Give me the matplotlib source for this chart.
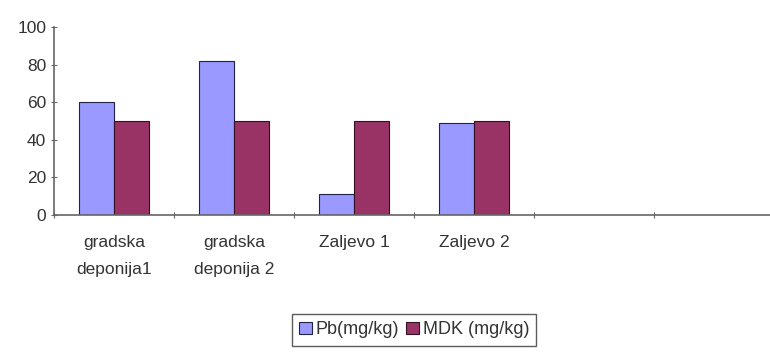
import numpy as np
import matplotlib.pyplot as plt

# Lead content vs. maximum allowed concentration per sampling site
sites = ["gradska\ndeponija1", "gradska\ndeponija 2", "Zaljevo 1", "Zaljevo 2", "", ""]
pb = [60, 82, 11, 49]
mdk = [50, 50, 50, 50]

plt.rcParams['font.family'] = ['Liberation Sans Narrow', 'Liberation Sans', 'DejaVu Sans']

fig = plt.figure(figsize=(7.7, 3.52), dpi=100)
ax = fig.add_axes([0.070, 0.389, 0.935, 0.534])

x = np.arange(len(pb))
w = 0.29
ax.bar(x - w / 2, pb, w, color="#9999FF", edgecolor="#222244", linewidth=0.8, label="Pb(mg/kg)")
ax.bar(x + w / 2, mdk, w, color="#993366", edgecolor="#331122", linewidth=0.8, label="MDK (mg/kg)")

ax.set_xlim(-0.5, len(sites) - 0.5)
ax.set_ylim(0, 100)
ax.set_yticks(range(0, 101, 20))
ax.set_xticks(np.arange(len(sites) + 1) - 0.5)
ax.set_xticklabels([])
ax.set_xticks(np.arange(len(sites)), minor=True)
ax.set_xticklabels(sites, minor=True, linespacing=2.0)
ax.tick_params(axis="x", which="minor", length=0, pad=14, labelsize=12.5, colors="#333333")
ax.tick_params(axis="x", which="major", length=5, direction="inout", color="#666666")
ax.tick_params(axis="y", length=4, direction="inout", labelsize=12.5, colors="#333333", color="#666666")

for side in ["top", "right"]:
    ax.spines[side].set_visible(False)
for side in ["left", "bottom"]:
    ax.spines[side].set_color("#666666")
    ax.spines[side].set_linewidth(1.2)

fig.legend(loc="center", bbox_to_anchor=(0.538, 0.063), ncol=2, fontsize=13,
           frameon=True, fancybox=False, edgecolor="#333333", handlelength=0.7,
           handleheight=0.7, handletextpad=0.2, columnspacing=0.4, borderpad=0.4,
           labelcolor="#333333")

fig.savefig("out.png", dpi=100)
